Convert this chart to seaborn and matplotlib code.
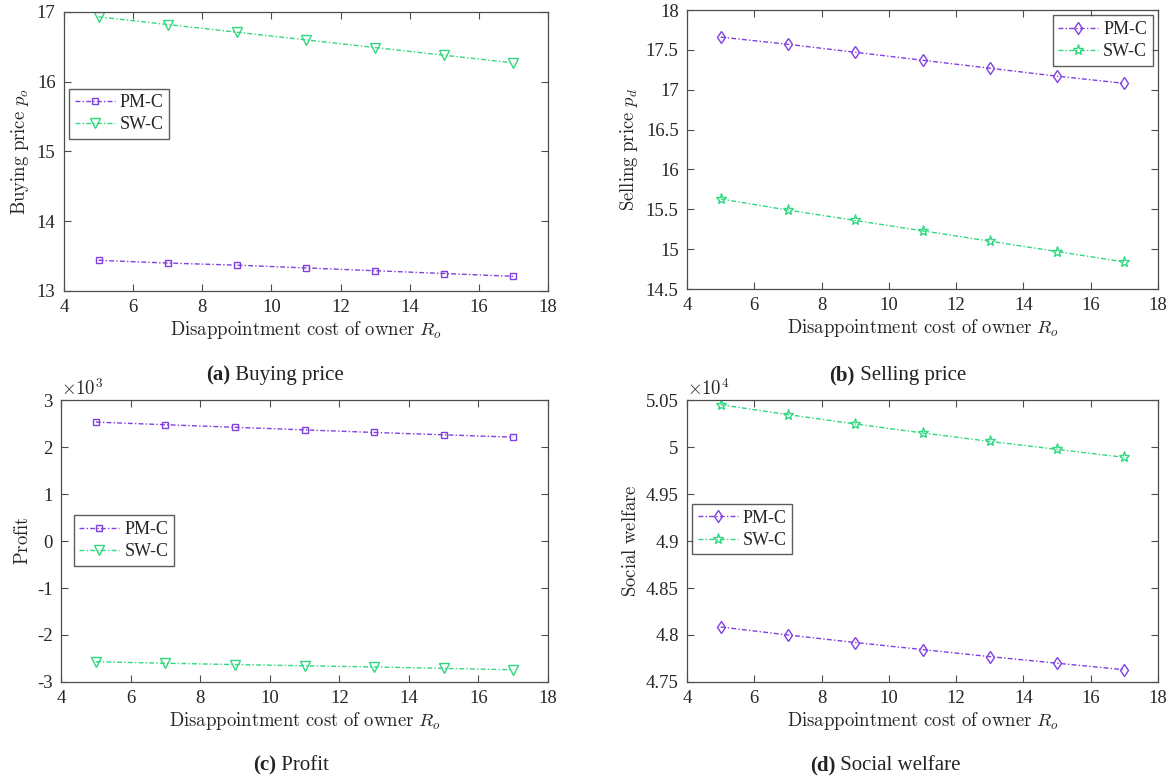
import numpy as np
import pandas as pd
import matplotlib
matplotlib.use("Agg")
import matplotlib.pyplot as plt
import seaborn as sns
from matplotlib.ticker import FuncFormatter

# ---------------- data ----------------
x_ro = [5, 7, 9, 11, 13, 15, 17]

buy_pm = [13.44, 13.40, 13.37, 13.33, 13.29, 13.25, 13.21]
buy_sw = [16.93, 16.82, 16.71, 16.60, 16.49, 16.38, 16.27]

sell_pm = [17.66, 17.57, 17.47, 17.37, 17.27, 17.17, 17.08]
sell_sw = [15.63, 15.49, 15.36, 15.23, 15.10, 14.97, 14.84]

profit_pm = [2530, 2475, 2420, 2365, 2310, 2260, 2210]
profit_sw = [-2570, -2600, -2630, -2655, -2680, -2710, -2740]

welfare_pm = [48085, 48000, 47920, 47845, 47770, 47700, 47630]
welfare_sw = [50450, 50345, 50245, 50150, 50060, 49975, 49890]

series_names = ["PM-C", "SW-C"]
captions = [("(a)", " Buying price"), ("(b)", " Selling price"),
            ("(c)", " Profit"), ("(d)", " Social welfare")]
ylabels = [r"$\mathrm{Buying\ price}\ p_o$", r"$\mathrm{Selling\ price}\ p_d$",
           r"$\mathrm{Profit}$", r"$\mathrm{Social\ welfare}$"]
xlabel = r"$\mathrm{Disappointment\ cost\ of\ owner}\ R_o$"
scales = [1, 1, 1000, 10000]
scale_labels = [None, None, r"$\times10^3$", r"$\times10^4$"]

# ---------------- style ----------------
sns.set_theme(style="ticks")
plt.rcParams["font.family"] = ["Liberation Serif", "DejaVu Serif"]
plt.rcParams["mathtext.fontset"] = "cm"
plt.rcParams["axes.unicode_minus"] = False
plt.rcParams["axes.edgecolor"] = "#4d4d4d"
plt.rcParams["xtick.color"] = "#4d4d4d"
plt.rcParams["ytick.color"] = "#4d4d4d"
plt.rcParams["xtick.labelcolor"] = "#262626"
plt.rcParams["ytick.labelcolor"] = "#262626"

PURPLE = "#8040E0"
GREEN = "#30D880"

fig = plt.figure(figsize=(11.74, 7.83), dpi=100)

positions = [
    [0.0545, 0.6284, 0.4123, 0.3563],
    [0.5852, 0.6309, 0.4012, 0.3563],
    [0.0520, 0.1290, 0.4148, 0.3601],
    [0.5852, 0.1290, 0.4012, 0.3601],
]

panels = [
    (buy_pm, buy_sw, "s", "v", (13, 17), np.arange(13, 17.01, 1)),
    (sell_pm, sell_sw, "d", "*", (14.5, 18), np.arange(14.5, 18.01, 0.5)),
    (profit_pm, profit_sw, "s", "v", (-3000, 3000), np.arange(-3000, 3001, 1000)),
    (welfare_pm, welfare_sw, "d", "*", (47500, 50500), np.arange(47500, 50501, 500)),
]
msizes = {"s": 4.5, "v": 7, "d": 6.5, "*": 8}

legend_locs = [
    dict(loc="upper left", bbox_to_anchor=(0.0, 0.745)),
    dict(loc="upper right", bbox_to_anchor=(1.0, 1.0)),
    dict(loc="upper left", bbox_to_anchor=(0.015, 0.61)),
    dict(loc="upper left", bbox_to_anchor=(0.0, 0.65)),
]

for i, (pm, sw, m1, m2, ylim, yt) in enumerate(panels):
    ax = fig.add_axes(positions[i])
    for vals, name, col, mk in [(pm, series_names[0], PURPLE, m1),
                                (sw, series_names[1], GREEN, m2)]:
        df = pd.DataFrame({"x": x_ro, "y": vals})
        sns.lineplot(data=df, x="x", y="y", ax=ax, color=col,
                     dashes=False, linewidth=1.0, marker=mk,
                     markersize=msizes[mk], markerfacecolor="none",
                     markeredgecolor=col, markeredgewidth=1.0, label=name)
    for ln in ax.get_lines():
        ln.set_dashes((3.5, 1.6, 1.0, 1.6))
    ax.set_xlim(4, 18)
    ax.set_xticks(np.arange(4, 18.1, 2))
    ax.set_ylim(*ylim)
    ax.set_yticks(yt)
    s = scales[i]
    ax.yaxis.set_major_formatter(FuncFormatter(lambda v, p, s=s: f"{v / s:g}"))
    if scale_labels[i]:
        ax.text(0.0, 1.005, scale_labels[i], transform=ax.transAxes,
                ha="left", va="bottom", fontsize=13.5, color="#262626")
    ax.tick_params(direction="in", top=True, right=True, labelsize=13.5,
                   length=5, width=0.8, pad=6)
    for sp in ax.spines.values():
        sp.set_linewidth(0.9)
    ax.set_xlabel(xlabel, fontsize=13.5, labelpad=2)
    ax.set_ylabel(ylabels[i], fontsize=13.5, labelpad=4)
    leg = ax.legend(fontsize=13, frameon=True, fancybox=False,
                    edgecolor="#333333", handlelength=2.2, handletextpad=0.3,
                    borderpad=0.3, labelspacing=0.3, borderaxespad=0.3,
                    **legend_locs[i])
    leg.get_frame().set_linewidth(1.0)
    for h in leg.get_lines():
        h.set_dashes((3.5, 1.6, 1.0, 1.6))

cap_pos = [(230 / 1174, 1 - 375 / 783), (855 / 1174, 1 - 375 / 783),
           (276 / 1174, 1 - 765 / 783), (835 / 1174, 1 - 765 / 783)]
for (lab, txt), (cx, cy) in zip(captions, cap_pos):
    fig.text(cx, cy, lab, ha="right", va="center", fontsize=15,
             fontweight="bold", color="#222222")
    fig.text(cx, cy, txt, ha="left", va="center", fontsize=15, color="#222222")

fig.savefig("out.png", dpi=100)
